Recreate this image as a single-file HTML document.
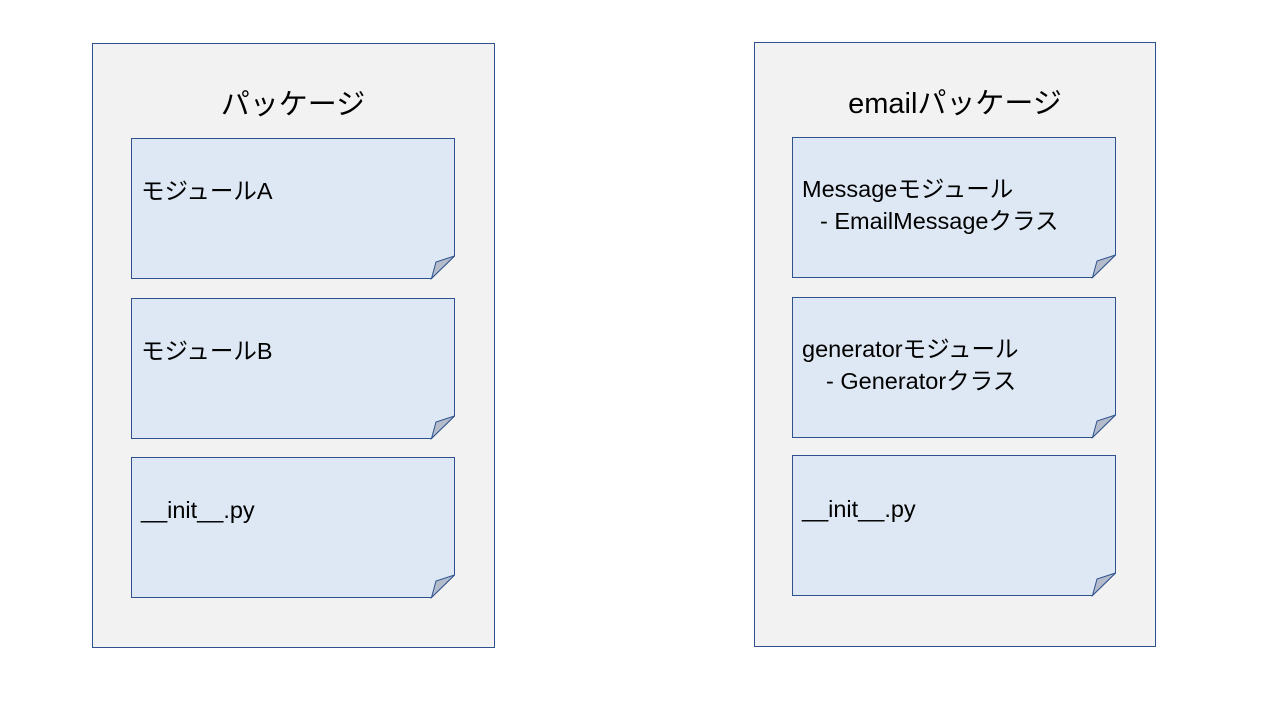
<!DOCTYPE html>
<html><head><meta charset="utf-8"><style>
html,body{margin:0;padding:0;background:#fff;width:1280px;height:720px;overflow:hidden}
text{font-family:"Liberation Sans","Noto Sans CJK JP",sans-serif;fill:#000}
</style></head><body>
<svg width="1280" height="720" xmlns="http://www.w3.org/2000/svg">
<defs>
<g id="c">
<path d="M0.5 0.5 H323.5 V118 L300.5 140.5 H0.5 Z" fill="#dde8f4" stroke="#2f528f" stroke-width="1"/>
<path d="M323.5 118 L300.5 140.5 L305 124 Z" fill="#b4bccb" stroke="#2f528f" stroke-width="1"/>
</g>
</defs>
<rect x="92.5" y="43.5" width="402" height="604" fill="#f2f2f2" stroke="#2f528f"/>
<rect x="754.5" y="42.5" width="401" height="604" fill="#f2f2f2" stroke="#2f528f"/>
<text x="293" y="114" font-size="29" text-anchor="middle">パッケージ</text>
<text x="955" y="113" font-size="29" text-anchor="middle">emailパッケージ</text>
<use href="#c" x="131" y="138"/>
<use href="#c" x="131" y="298"/>
<use href="#c" x="131" y="457"/>
<use href="#c" x="792" y="137"/>
<use href="#c" x="792" y="297"/>
<use href="#c" x="792" y="455"/>
<g font-size="23.5">
<text x="141" y="199">モジュールA</text>
<text x="141" y="359">モジュールB</text>
<text x="141" y="518">__init__.py</text>
<text x="802" y="197">Messageモジュール</text>
<text x="820" y="229">- EmailMessageクラス</text>
<text x="802" y="357">generatorモジュール</text>
<text x="826" y="389">- Generatorクラス</text>
<text x="802" y="517">__init__.py</text>
</g>
</svg>
</body></html>
